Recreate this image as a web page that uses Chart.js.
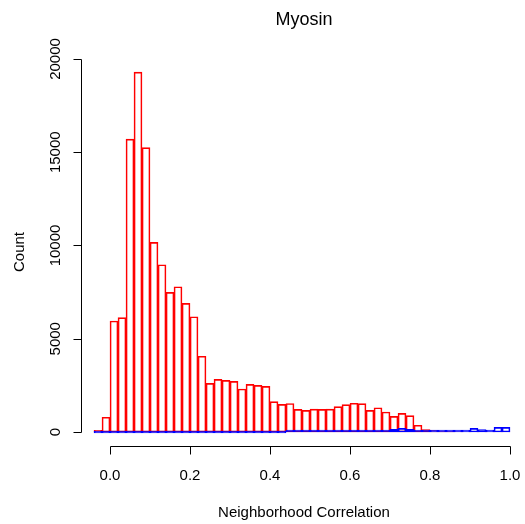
<!DOCTYPE html>
<html>
<head>
<meta charset="utf-8">
<script src="https://cdn.jsdelivr.net/npm/chart.js@4/dist/chart.umd.min.js"></script>
<style>
    body { margin: 0; background: #fff; }
    #wrap { width: 525px; height: 524px; position: relative; }
</style>
</head>
<body>
<div id="wrap"><canvas id="canvas"></canvas></div>
<script>
// bin centres, bins are 0.02 wide from -0.04 to 1.0
var binCenters = [-0.03, -0.01, 0.01, 0.03, 0.05, 0.07, 0.09, 0.11, 0.13, 0.15,
    0.17, 0.19, 0.21, 0.23, 0.25, 0.27, 0.29, 0.31, 0.33, 0.35,
    0.37, 0.39, 0.41, 0.43, 0.45, 0.47, 0.49, 0.51, 0.53, 0.55,
    0.57, 0.59, 0.61, 0.63, 0.65, 0.67, 0.69, 0.71, 0.73, 0.75,
    0.77, 0.79, 0.81, 0.83, 0.85, 0.87, 0.89, 0.91, 0.93, 0.95,
    0.97, 0.99];

var redCounts = [90, 790, 5950, 6130, 15700, 19300, 15250, 10170, 8970, 7490,
    7790, 6900, 6180, 4060, 2610, 2825, 2770, 2715, 2305, 2555,
    2500, 2450, 1630, 1480, 1530, 1210, 1160, 1230, 1210, 1230,
    1360, 1470, 1540, 1520, 1160, 1300, 1070, 840, 1000, 875,
    360, 125, 70, 50, 30, 20, 15, 10, 10, 5,
    5, 5];

var blueCounts = [0, 0, 0, 0, 0, 0, 0, 0, 0, 0,
    0, 0, 0, 0, 0, 0, 0, 0, 0, 0,
    0, 0, 0, 0, 5, 5, 10, 10, 10, 15,
    15, 20, 25, 30, 40, 50, 60, 140, 195, 140,
    55, 35, 50, 90, 90, 70, 90, 195, 125, 90,
    250, 250];

var xTicks = [0, 0.2, 0.4, 0.6, 0.8, 1.0];
var xTickLabels = ["0.0", "0.2", "0.4", "0.6", "0.8", "1.0"];
var yTicks = [0, 5000, 10000, 15000, 20000];

var titleText = "Myosin";
var xTitle = "Neighborhood Correlation";
var yTitle = "Count";

function toPoints(values) {
    return values.map(function (v, i) {
        return {x: binCenters[i], y: v};
    });
}

var fontName = '"Liberation Sans", Arial, sans-serif';

// R style axes, drawn with the chart's own scales
var baseAxes = {
    id: 'baseAxes',
    afterDraw: function (chart) {
        var ctx = chart.ctx;
        var xs = chart.scales.x, ys = chart.scales.y;
        var axisY = 446.5, axisX = 81.5, tick = 8;

        ctx.save();
        ctx.strokeStyle = '#000';
        ctx.fillStyle = '#000';
        ctx.lineWidth = 1;

        // x axis
        var x0 = Math.round(xs.getPixelForValue(xTicks[0])) + 0.5;
        var x1 = Math.round(xs.getPixelForValue(xTicks[xTicks.length - 1])) + 0.5;
        ctx.beginPath();
        ctx.moveTo(x0, axisY);
        ctx.lineTo(x1, axisY);
        xTicks.forEach(function (v) {
            var px = Math.round(xs.getPixelForValue(v)) + 0.5;
            ctx.moveTo(px, axisY);
            ctx.lineTo(px, axisY + tick);
        });
        ctx.stroke();

        ctx.font = '15px ' + fontName;
        ctx.textAlign = 'center';
        ctx.textBaseline = 'alphabetic';
        xTicks.forEach(function (v, i) {
            ctx.fillText(xTickLabels[i], xs.getPixelForValue(v), 480);
        });

        // y axis
        var y0 = Math.round(ys.getPixelForValue(yTicks[0])) + 0.5;
        var y1 = Math.round(ys.getPixelForValue(yTicks[yTicks.length - 1])) + 0.5;
        ctx.beginPath();
        ctx.moveTo(axisX, y0);
        ctx.lineTo(axisX, y1);
        yTicks.forEach(function (v) {
            var py = Math.round(ys.getPixelForValue(v)) + 0.5;
            ctx.moveTo(axisX, py);
            ctx.lineTo(axisX - tick, py);
        });
        ctx.stroke();

        yTicks.forEach(function (v) {
            ctx.save();
            ctx.translate(60, ys.getPixelForValue(v));
            ctx.rotate(-Math.PI / 2);
            ctx.fillText(String(v), 0, 0);
            ctx.restore();
        });

        // titles
        var midX = xs.getPixelForValue(0.485);
        ctx.font = '18px ' + fontName;
        ctx.fillText(titleText, midX, 25);
        ctx.font = '15px ' + fontName;
        ctx.fillText(xTitle, midX, 517);

        ctx.save();
        ctx.translate(24, (chart.chartArea.top + chart.chartArea.bottom) / 2);
        ctx.rotate(-Math.PI / 2);
        ctx.fillText(yTitle, 0, 0);
        ctx.restore();

        ctx.restore();
    }
};

var histData = {
    datasets: [
        {
            label: 'blue',
            data: toPoints(blueCounts),
            borderColor: '#0000ff',
            backgroundColor: 'rgba(0,0,0,0)',
            borderWidth: 1,
            borderSkipped: false,
            minBarLength: 2,
            order: 0
        },
        {
            label: 'red',
            data: toPoints(redCounts),
            borderColor: '#ff0000',
            backgroundColor: 'rgba(0,0,0,0)',
            borderWidth: 1,
            borderSkipped: false,
            order: 1
        }
    ]
};

var opt = {
    responsive: true,
    maintainAspectRatio: false,
    animation: false,
    grouped: false,
    barPercentage: 1,
    categoryPercentage: 1,
    layout: {padding: {left: 82, right: 0, top: 58, bottom: 78}},
    plugins: {legend: {display: false}, tooltip: {enabled: false}},
    scales: {
        x: {type: 'linear', offset: false, min: -0.07, max: 1.0375, display: false},
        y: {type: 'linear', min: -750.7, max: 20053.6, display: false}
    }
};

var ctx = document.getElementById("canvas").getContext("2d");
new Chart(ctx, {
    type: 'bar',
    data: histData,
    options: opt,
    plugins: [baseAxes]
});
</script>
</body>
</html>
